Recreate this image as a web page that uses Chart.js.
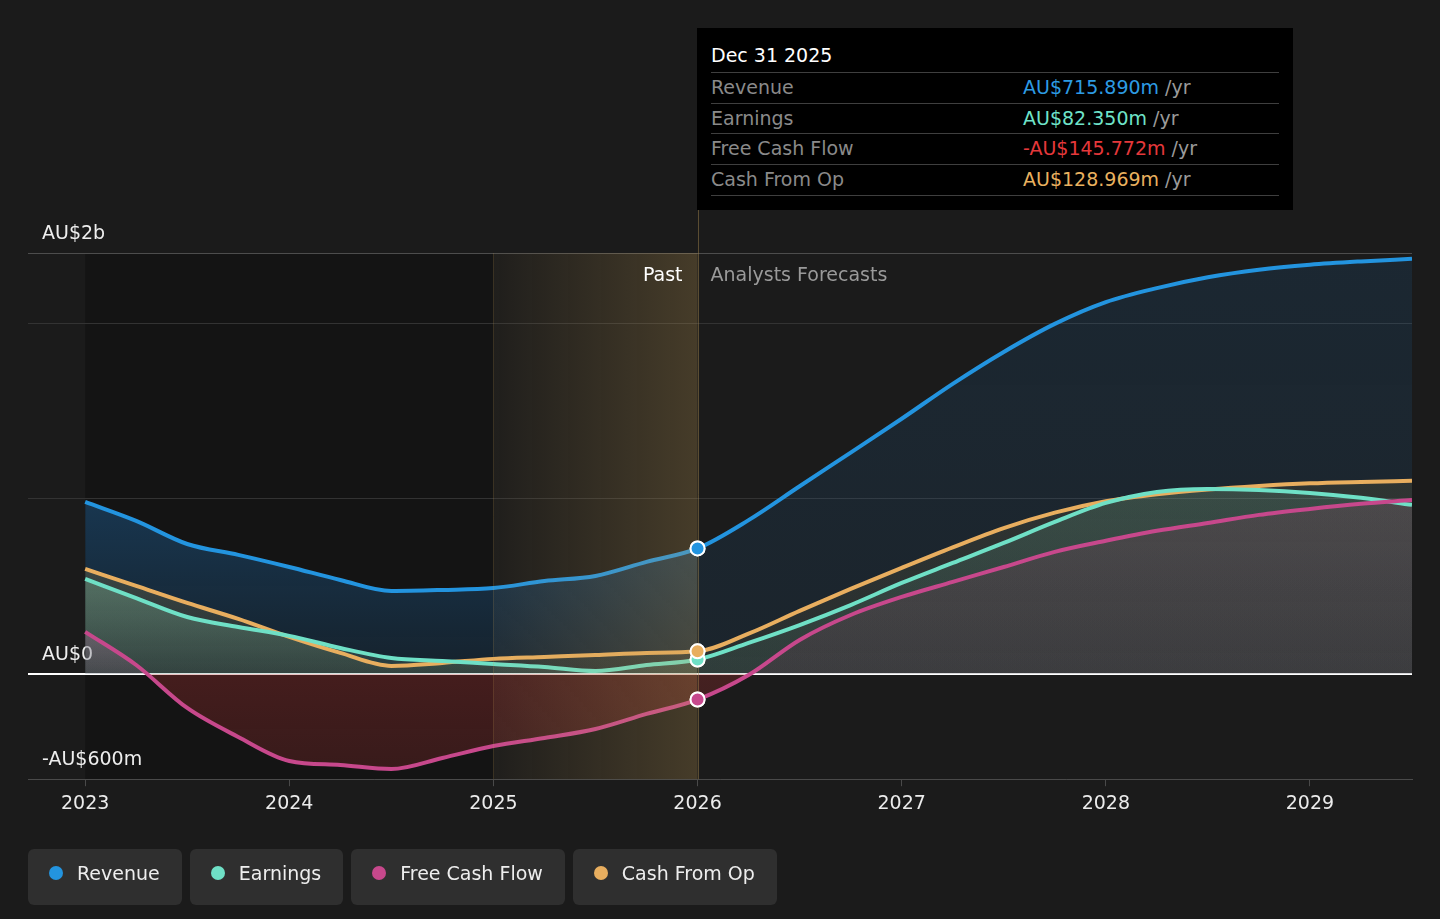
<!DOCTYPE html>
<html>
<head>
<meta charset="utf-8">
<script src="https://cdn.jsdelivr.net/npm/chart.js@4.4.1/dist/chart.umd.min.js"></script>
<style>
body{margin:0;background:#1b1b1b;font-family:'DejaVu Sans',sans-serif}
#wrap{position:relative;width:1440px;height:919px;overflow:hidden}
#c{position:absolute;left:0;top:0}
#tip{position:absolute;top:28px;left:697px;width:568px;height:182px;padding:0 14px;background:#000;font-size:19px}
.tt-title{height:28px;padding-top:16px;line-height:22px;color:#fff;border-bottom:1px solid #3f3f3f}
.tt-row{height:29.7px;line-height:29.7px;border-bottom:1px solid #3f3f3f;display:flex;white-space:nowrap}
.tt-lab{width:312px;color:#8a8a8a}
.tt-unit{color:#9a9a9a}
.note{position:absolute;top:263px;font-size:19px;line-height:22px;white-space:nowrap}
#past{color:#fff;text-align:right}
#fc{color:#9a9a9a}
#legend{position:absolute;left:28px;top:849px;display:flex;gap:8px}
.lg{box-sizing:border-box;height:56px;padding:0 22px 8px 21px;background:#2f2f2f;border-radius:6px;display:flex;align-items:center;color:#eee;font-size:19px}
.dot{width:14px;height:14px;border-radius:50%;margin-right:14px}
</style>
</head>
<body>
<div id="wrap">
<canvas id="c" width="1440" height="919"></canvas>
<div id="tip"></div>
<div id="past" class="note">Past</div>
<div id="fc" class="note">Analysts Forecasts</div>
<div id="legend"></div>
</div>
<script>
// values in AU$ millions, quarterly
const years=[2023,2023.25,2023.5,2023.75,2024,2024.25,2024.5,2024.75,2025,2025.25,2025.5,2025.75,2026,2026.25,2026.5,2026.75,2027,2027.25,2027.5,2027.75,2028,2028.25,2028.5,2028.75,2029,2029.25,2029.5]
const revenue=[981,873,741,679,610,536,473,479,490,530,559,639,715.89,877,1070,1262,1455,1654,1836,1996,2120,2200,2262,2305,2333,2352,2367]
const earnings=[542,433,325,268,217,148,91,74,57,40,17,51,82.35,177,279,393,519,633,747,867,975,1038,1055,1049,1032,1004,964]
const freeCashFlow=[240,51,-194,-359,-496,-519,-542,-479,-411,-365,-314,-228,-145.772,-6,194,336,439,525,610,696,759,816,861,907,941,970,992]
const cashFromOp=[599,502,405,314,211,120,46,63,86,97,108,120,128.969,230,360,485,605,722,832,920,985,1025,1052,1072,1087,1095,1101]

const yearTicks=[2023,2024,2025,2026,2027,2028,2029]
const yTicks=[-600,0,1000,2000,2400]
const yTickLabels={"-600":"-AU$600m","0":"AU$0","2400":"AU$2b"}
const pastStart=2023, forecastStart=2026, shadeStart=2025
const tooltipDate="Dec 31 2025"

const split=years.indexOf(forecastStart)

const series=[
 {name:"Revenue",data:revenue,color:"#2394df",tip:"#2d9be3",key:"rev"},
 {name:"Earnings",data:earnings,color:"#6fe0c6",tip:"#6fe3c9",key:"earn"},
 {name:"Free Cash Flow",data:freeCashFlow,color:"#c7488c",tip:"#e5383b",key:"fcf"},
 {name:"Cash From Op",data:cashFromOp,color:"#e8ae5f",tip:"#e9b15f",key:"cfo"}
]

// fill styles: [value, colour] stops, past and forecast
const fills={
 rev:{p:[[1000,"rgba(35,135,220,0.30)"],[0,"rgba(35,135,220,0.12)"]],
      f:[[2400,"rgba(35,135,220,0.12)"],[0,"rgba(35,135,220,0.09)"]]},
 cfo:{p:[[600,"rgba(150,130,70,0.28)"],[0,"rgba(150,130,70,0.12)"]],
      f:[[1100,"rgba(150,130,70,0.16)"],[0,"rgba(150,130,70,0.11)"]]},
 earn:{p:[[600,"rgba(150,220,180,0.30)"],[0,"rgba(150,220,180,0.12)"]],
       f:[[1100,"rgba(120,220,190,0.14)"],[0,"rgba(120,220,190,0.08)"]]},
 fcf:{p:[[300,"rgba(200,120,170,0.30)"],[0,"rgba(200,120,170,0.12)"],[0,"rgba(180,50,50,0.30)"],[-600,"rgba(180,50,50,0.22)"]],
      f:[[1000,"rgba(190,60,110,0.14)"],[0,"rgba(190,60,110,0.09)"],[0,"rgba(180,50,50,0.28)"],[-600,"rgba(180,50,50,0.2)"]]}
}

const gradCache={}
function vgrad(chart,key,stops){
 const a=chart.chartArea, y=chart.scales.y
 const k=key+"_"+a.top+"_"+a.bottom
 if(gradCache[k]) return gradCache[k]
 const g=chart.ctx.createLinearGradient(0,a.top,0,a.bottom)
 stops.forEach(([v,c])=>{
  const t=(y.getPixelForValue(v)-a.top)/(a.bottom-a.top)
  g.addColorStop(Math.min(1,Math.max(0,t)),c)
 })
 gradCache[k]=g
 return g
}

function dataset(s){
 return {
  label:s.name,
  data:years.map((x,i)=>({x:x,y:s.data[i]})),
  borderColor:s.color,
  borderWidth:4,
  backgroundColor:"rgba(0,0,0,0)",
  fill:"origin",
  cubicInterpolationMode:"monotone",
  pointRadius:c=>c.dataIndex===split?7:0,
  pointHoverRadius:c=>c.dataIndex===split?7:0,
  pointBackgroundColor:s.color,
  pointBorderColor:"#ffffff",
  pointBorderWidth:2,
  segment:{
   backgroundColor:c=>{
    const past=c.p0DataIndex<split
    return vgrad(c.chart,s.key+(past?"p":"f"),past?fills[s.key].p:fills[s.key].f)
   }
  }
 }
}

// draw order: revenue at the back, free cash flow in front
const order=[2,1,3,0]
const datasets=order.map(i=>dataset(series[i]))

const backdrop={
 id:"backdrop",
 beforeDraw(chart){
  const {ctx,chartArea:a,scales:{x}}=chart
  ctx.save()
  ctx.fillStyle="rgba(0,0,0,0.25)"
  const x0=x.getPixelForValue(pastStart), x1=x.getPixelForValue(shadeStart)
  ctx.fillRect(x0,a.top,x1-x0,a.bottom-a.top)
  ctx.restore()
 },
 afterDatasetsDraw(chart){
  const {ctx,chartArea:a,scales:{x}}=chart
  const x1=x.getPixelForValue(shadeStart), x2=x.getPixelForValue(forecastStart)
  ctx.save()
  const g=ctx.createLinearGradient(x1,0,x2,0)
  g.addColorStop(0,"rgba(200,160,85,0.03)")
  g.addColorStop(1,"rgba(200,160,85,0.25)")
  ctx.fillStyle=g
  ctx.fillRect(x1,a.top,x2-x1,a.bottom-a.top)
  ctx.lineWidth=1
  ctx.strokeStyle="rgba(200,160,85,0.18)"
  ctx.beginPath()
  ctx.moveTo(Math.round(x1)+0.5,a.top)
  ctx.lineTo(Math.round(x1)+0.5,a.bottom)
  ctx.stroke()
  const tip=document.getElementById("tip")
  const tipBottom=tip.offsetTop+tip.offsetHeight
  ctx.strokeStyle="rgba(170,140,80,0.45)"
  ctx.beginPath()
  ctx.moveTo(Math.round(x2)+0.5,tipBottom)
  ctx.lineTo(Math.round(x2)+0.5,a.bottom)
  ctx.stroke()
  ctx.restore()
  // markers on top of the shading
  ;[0,2,1,3].forEach(si=>{
   const meta=chart.getDatasetMeta(order.indexOf(si))
   const pt=meta.data[split]
   if(pt) pt.draw(ctx,a)
  })
 },
 afterDraw(chart){
  const {chartArea:a,scales:{x}}=chart
  const x2=x.getPixelForValue(forecastStart)
  const tip=document.getElementById("tip")
  tip.style.left=(Math.round(x2)-1)+"px"
  const past=document.getElementById("past")
  past.style.right=(1440-(x2-15))+"px"
  past.style.top=(a.top+10)+"px"
  const fc=document.getElementById("fc")
  fc.style.left=(x2+13)+"px"
  fc.style.top=(a.top+10)+"px"
 }
}

// tooltip and legend built from the data
const tip=document.getElementById("tip")
let html='<div class="tt-title">'+tooltipDate+'</div>'
series.forEach(s=>{
 const v=s.data[split]
 const txt=(v<0?"-":"")+"AU$"+Math.abs(v).toFixed(3)+"m"
 html+='<div class="tt-row"><span class="tt-lab">'+s.name+'</span><span style="color:'+s.tip+'">'+txt+'</span><span class="tt-unit">&nbsp;/yr</span></div>'
})
tip.innerHTML=html

const legend=document.getElementById("legend")
series.forEach(s=>{
 const b=document.createElement("div")
 b.className="lg"
 b.innerHTML='<span class="dot" style="background:'+s.color+'"></span>'+s.name
 legend.appendChild(b)
})

Chart.defaults.font.family="'DejaVu Sans', sans-serif"
Chart.defaults.font.size=19

new Chart(document.getElementById("c"),{
 type:"line",
 data:{datasets:datasets},
 options:{
  responsive:false,
  animation:false,
  events:[],
  layout:{padding:{left:0,right:28,top:253,bottom:98}},
  plugins:{legend:{display:false},tooltip:{enabled:false},filler:{drawTime:"beforeDatasetsDraw"}},
  scales:{
   x:{
    type:"linear",
    min:2022.72,
    max:2029.5,
    afterBuildTicks:sc=>{sc.ticks=yearTicks.map(v=>({value:v}))},
    ticks:{color:"#ececec",autoSkip:false,maxRotation:0,padding:6,callback:v=>String(v)},
    grid:{drawOnChartArea:false,drawTicks:true,tickLength:7,color:"#4a4a4a"},
    border:{color:"#4a4a4a"}
   },
   y:{
    min:-600,
    max:2400,
    afterBuildTicks:sc=>{sc.ticks=yTicks.map(v=>({value:v}))},
    ticks:{mirror:true,padding:14,labelOffset:-19,color:"#eeeeee",callback:v=>yTickLabels[v]||""},
    grid:{drawTicks:false,color:c=>c.tick.value===0?"#ffffff":(c.tick.value===2400?"#4d4d4d":"#333333"),lineWidth:c=>c.tick.value===0?2:1},
    border:{display:false}
   }
  }
 },
 plugins:[backdrop]
})
</script>
</body>
</html>
